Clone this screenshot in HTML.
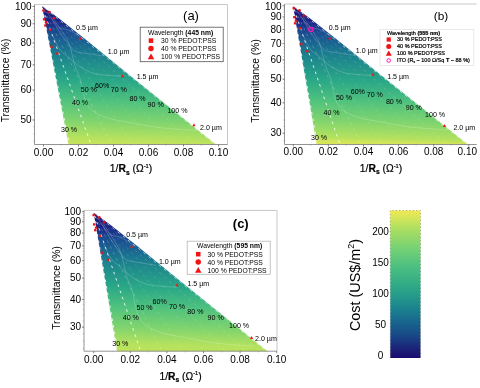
<!DOCTYPE html><html><head><meta charset="utf-8"><title>Figure</title>
<style>html,body{margin:0;padding:0;background:#fff}svg{display:block;will-change:transform;opacity:0.999}text{font-family:'Liberation Sans', sans-serif}</style></head><body>
<svg width="480" height="388" viewBox="0 0 480 388">
<rect width="480" height="388" fill="#fff"/>
<rect x="34.5" y="4.5" width="193.0" height="140.0" fill="#fff" stroke="none"/>
<path d="M34.5 4.5H227.5" stroke="#c9c9c9" stroke-width="1" fill="none"/>
<path d="M227.5 4.5V144.5" stroke="#c9c9c9" stroke-width="1" fill="none"/>
<defs><linearGradient id="ga" gradientUnits="userSpaceOnUse" x1="42" y1="6" x2="39" y2="144.5">
<stop offset="0" stop-color="#1a0a72"/>
<stop offset="0.05" stop-color="#1a1878"/>
<stop offset="0.12" stop-color="#1a2c88"/>
<stop offset="0.178" stop-color="#1a4a90"/>
<stop offset="0.235" stop-color="#1a5c92"/>
<stop offset="0.308" stop-color="#1a7490"/>
<stop offset="0.388" stop-color="#1f8a8c"/>
<stop offset="0.533" stop-color="#2aa887"/>
<stop offset="0.678" stop-color="#50c27e"/>
<stop offset="0.822" stop-color="#80d46e"/>
<stop offset="0.945" stop-color="#b6e25e"/>
<stop offset="0.967" stop-color="#c0e25e"/>
<stop offset="1" stop-color="#cbe35a"/>
</linearGradient></defs>
<polygon points="42,6 59.06,18.46 85.36,39.24 129.60,75.25 216,144.5 68.5,144.5" fill="url(#ga)"/>
<line x1="42" y1="6" x2="69.30" y2="144.5" stroke="#fff" stroke-width="0.9" stroke-dasharray="2.6 4" stroke-dashoffset="-2.0" opacity="0.95"/>
<line x1="42" y1="6" x2="91.00" y2="144.5" stroke="#fff" stroke-width="0.9" stroke-dasharray="2.6 4" stroke-dashoffset="-3.3" opacity="0.95"/>
<line x1="42" y1="6" x2="111.83" y2="144.5" stroke="#fff" stroke-width="0.9" stroke-dasharray="2.6 4" stroke-dashoffset="-4.6" opacity="0.25"/>
<line x1="42" y1="6" x2="132.67" y2="144.5" stroke="#fff" stroke-width="0.9" stroke-dasharray="2.6 4" stroke-dashoffset="-5.9" opacity="0.16"/>
<line x1="42" y1="6" x2="153.50" y2="144.5" stroke="#fff" stroke-width="0.9" stroke-dasharray="2.6 4" stroke-dashoffset="-7.2" opacity="0.14"/>
<line x1="42" y1="6" x2="174.33" y2="144.5" stroke="#fff" stroke-width="0.9" stroke-dasharray="2.6 4" stroke-dashoffset="-8.5" opacity="0.14"/>
<line x1="42" y1="6" x2="195.17" y2="144.5" stroke="#fff" stroke-width="0.9" stroke-dasharray="2.6 4" stroke-dashoffset="-9.8" opacity="0.18"/>
<line x1="42" y1="6" x2="215.20" y2="144.5" stroke="#fff" stroke-width="0.9" stroke-dasharray="2.6 4" stroke-dashoffset="-11.1" opacity="0.7"/>
<path d="M82.0 38.0C80.0 36.8 73.7 32.2 70.0 30.5C66.3 28.8 62.7 29.4 60.0 28.0C57.3 26.6 56.2 24.7 54.0 22.0C51.8 19.3 48.2 13.7 47.0 12.0" stroke="#fff" stroke-width="0.45" fill="none" opacity="0.42"/>
<path d="M103.2 56.0C100.5 55.6 91.8 54.3 87.1 53.5C82.4 52.7 78.1 52.9 74.8 51.0C71.5 49.1 69.8 45.5 67.3 42.4C64.8 39.3 62.5 36.4 60.0 32.5C57.5 28.6 53.3 21.2 52.0 19.0" stroke="#fff" stroke-width="0.45" fill="none" opacity="0.42"/>
<path d="M123.0 76.3C119.1 76.0 105.5 75.4 99.5 74.5C93.5 73.6 90.7 72.4 87.0 70.8C83.3 69.2 80.3 67.0 77.2 64.7C74.1 62.4 71.5 59.7 68.6 57.2C65.7 54.7 62.6 53.3 60.0 49.8C57.4 46.3 54.2 38.3 53.0 36.0" stroke="#fff" stroke-width="0.45" fill="none" opacity="0.42"/>
<path d="M197.0 130.5C194.2 130.3 187.0 130.1 180.0 129.5C173.0 128.9 163.3 128.2 155.0 127.0C146.7 125.8 137.5 123.9 130.0 122.5C122.5 121.1 115.8 120.4 110.0 118.7C104.2 117.0 98.8 114.8 95.0 112.5C91.2 110.2 89.4 108.1 87.5 105.0C85.6 101.9 84.7 98.2 83.5 94.0C82.3 89.8 81.9 84.7 80.5 80.0C79.1 75.3 76.3 70.0 75.0 66.0C73.7 62.0 73.6 59.9 72.5 56.0C71.4 52.1 70.5 46.7 68.6 42.4C66.7 38.1 63.6 34.1 61.0 30.0C58.4 25.9 54.3 20.0 53.0 18.0" stroke="#fff" stroke-width="0.45" fill="none" opacity="0.42"/>
<path d="M34.5 4.5V144.5H227.5" stroke="#7a7a7a" stroke-width="0.8" fill="none"/>
<path d="M32.5 6.50H34.5" stroke="#666" stroke-width="0.8"/>
<text x="31.70" y="10.30" font-size="10" text-anchor="end" font-weight="normal" fill="#000" >100</text>
<path d="M32.5 23.75H34.5" stroke="#666" stroke-width="0.8"/>
<text x="31.70" y="26.85" font-size="10" text-anchor="end" font-weight="normal" fill="#000" >90</text>
<path d="M32.5 43.04H34.5" stroke="#666" stroke-width="0.8"/>
<text x="31.70" y="46.14" font-size="10" text-anchor="end" font-weight="normal" fill="#000" >80</text>
<path d="M32.5 64.90H34.5" stroke="#666" stroke-width="0.8"/>
<text x="31.70" y="68.00" font-size="10" text-anchor="end" font-weight="normal" fill="#000" >70</text>
<path d="M32.5 90.14H34.5" stroke="#666" stroke-width="0.8"/>
<text x="31.70" y="93.24" font-size="10" text-anchor="end" font-weight="normal" fill="#000" >60</text>
<path d="M32.5 119.99H34.5" stroke="#666" stroke-width="0.8"/>
<text x="31.70" y="123.09" font-size="10" text-anchor="end" font-weight="normal" fill="#000" >50</text>
<path d="M33.3 9.81H34.5" stroke="#888" stroke-width="0.5"/>
<path d="M33.3 13.18H34.5" stroke="#888" stroke-width="0.5"/>
<path d="M33.3 16.63H34.5" stroke="#888" stroke-width="0.5"/>
<path d="M33.3 20.15H34.5" stroke="#888" stroke-width="0.5"/>
<path d="M33.3 23.75H34.5" stroke="#888" stroke-width="0.5"/>
<path d="M33.3 27.43H34.5" stroke="#888" stroke-width="0.5"/>
<path d="M33.3 31.19H34.5" stroke="#888" stroke-width="0.5"/>
<path d="M33.3 35.05H34.5" stroke="#888" stroke-width="0.5"/>
<path d="M33.3 38.99H34.5" stroke="#888" stroke-width="0.5"/>
<path d="M33.3 43.04H34.5" stroke="#888" stroke-width="0.5"/>
<path d="M33.3 47.18H34.5" stroke="#888" stroke-width="0.5"/>
<path d="M33.3 51.43H34.5" stroke="#888" stroke-width="0.5"/>
<path d="M33.3 55.80H34.5" stroke="#888" stroke-width="0.5"/>
<path d="M33.3 60.29H34.5" stroke="#888" stroke-width="0.5"/>
<path d="M33.3 64.90H34.5" stroke="#888" stroke-width="0.5"/>
<path d="M33.3 69.64H34.5" stroke="#888" stroke-width="0.5"/>
<path d="M33.3 74.53H34.5" stroke="#888" stroke-width="0.5"/>
<path d="M33.3 79.57H34.5" stroke="#888" stroke-width="0.5"/>
<path d="M33.3 84.77H34.5" stroke="#888" stroke-width="0.5"/>
<path d="M33.3 90.14H34.5" stroke="#888" stroke-width="0.5"/>
<path d="M33.3 95.69H34.5" stroke="#888" stroke-width="0.5"/>
<path d="M33.3 101.43H34.5" stroke="#888" stroke-width="0.5"/>
<path d="M33.3 107.39H34.5" stroke="#888" stroke-width="0.5"/>
<path d="M33.3 113.57H34.5" stroke="#888" stroke-width="0.5"/>
<path d="M33.3 119.99H34.5" stroke="#888" stroke-width="0.5"/>
<path d="M33.3 126.67H34.5" stroke="#888" stroke-width="0.5"/>
<path d="M33.3 133.64H34.5" stroke="#888" stroke-width="0.5"/>
<path d="M33.3 140.92H34.5" stroke="#888" stroke-width="0.5"/>
<path d="M43.50 144.5V146.5" stroke="#666" stroke-width="0.8"/>
<text x="43.50" y="155.70" font-size="10" text-anchor="middle" font-weight="normal" fill="#000" >0.00</text>
<path d="M78.50 144.5V146.5" stroke="#666" stroke-width="0.8"/>
<text x="78.50" y="155.70" font-size="10" text-anchor="middle" font-weight="normal" fill="#000" >0.02</text>
<path d="M113.50 144.5V146.5" stroke="#666" stroke-width="0.8"/>
<text x="113.50" y="155.70" font-size="10" text-anchor="middle" font-weight="normal" fill="#000" >0.04</text>
<path d="M148.50 144.5V146.5" stroke="#666" stroke-width="0.8"/>
<text x="148.50" y="155.70" font-size="10" text-anchor="middle" font-weight="normal" fill="#000" >0.06</text>
<path d="M183.50 144.5V146.5" stroke="#666" stroke-width="0.8"/>
<text x="183.50" y="155.70" font-size="10" text-anchor="middle" font-weight="normal" fill="#000" >0.08</text>
<path d="M218.50 144.5V146.5" stroke="#666" stroke-width="0.8"/>
<text x="218.50" y="155.70" font-size="10" text-anchor="middle" font-weight="normal" fill="#000" >0.10</text>
<path d="M61.00 144.5V145.7" stroke="#888" stroke-width="0.5"/>
<path d="M96.00 144.5V145.7" stroke="#888" stroke-width="0.5"/>
<path d="M131.00 144.5V145.7" stroke="#888" stroke-width="0.5"/>
<path d="M166.00 144.5V145.7" stroke="#888" stroke-width="0.5"/>
<path d="M201.00 144.5V145.7" stroke="#888" stroke-width="0.5"/>
<rect x="42.25" y="9.35" width="2.3" height="2.3" fill="#f01414"/>
<circle cx="49.60" cy="12.00" r="1.3" fill="#f01414"/>
<polygon points="53.80,16.00 55.40,19.00 52.20,19.00" fill="#f01414"/>
<rect x="42.85" y="18.15" width="2.3" height="2.3" fill="#f01414"/>
<circle cx="46.00" cy="22.40" r="1.3" fill="#f01414"/>
<rect x="44.15" y="24.35" width="2.3" height="2.3" fill="#f01414"/>
<circle cx="49.90" cy="29.70" r="1.3" fill="#f01414"/>
<polygon points="80.00,36.50 81.60,39.50 78.40,39.50" fill="#f01414"/>
<rect x="50.35" y="45.55" width="2.3" height="2.3" fill="#f01414"/>
<circle cx="57.30" cy="53.60" r="1.3" fill="#f01414"/>
<polygon points="122.50,74.20 124.10,77.20 120.90,77.20" fill="#f01414"/>
<polygon points="194.00,123.20 195.60,126.20 192.40,126.20" fill="#f01414"/>
<text x="76.00" y="30.00" font-size="7.1" text-anchor="start" font-weight="normal" fill="#000" >0.5 µm</text>
<text x="107.70" y="54.20" font-size="7.1" text-anchor="start" font-weight="normal" fill="#000" >1.0 µm</text>
<text x="136.70" y="79.00" font-size="7.1" text-anchor="start" font-weight="normal" fill="#000" >1.5 µm</text>
<text x="200.00" y="130.40" font-size="7.1" text-anchor="start" font-weight="normal" fill="#000" >2.0 µm</text>
<text x="61.00" y="132.00" font-size="7.1" text-anchor="start" font-weight="normal" fill="#000" >30 %</text>
<text x="72.00" y="105.00" font-size="7.1" text-anchor="start" font-weight="normal" fill="#000" >40 %</text>
<text x="80.70" y="92.30" font-size="7.1" text-anchor="start" font-weight="normal" fill="#000" >50 %</text>
<text x="95.00" y="88.00" font-size="7.1" text-anchor="start" font-weight="normal" fill="#000" >60%</text>
<text x="110.70" y="92.30" font-size="7.1" text-anchor="start" font-weight="normal" fill="#000" >70 %</text>
<text x="129.50" y="100.50" font-size="7.1" text-anchor="start" font-weight="normal" fill="#000" >80 %</text>
<text x="147.60" y="106.70" font-size="7.1" text-anchor="start" font-weight="normal" fill="#000" >90 %</text>
<text x="167.40" y="113.20" font-size="7.1" text-anchor="start" font-weight="normal" fill="#000" >100 %</text>
<text x="191.00" y="20.00" font-size="13" text-anchor="middle" font-weight="normal" fill="#000" >(a)</text>
<rect x="140.2" y="27.2" width="83.0" height="34.5" fill="#fff" stroke="#555" stroke-width="0.8"/>
<text x="148.00" y="35.00" font-size="6.77" text-anchor="start" font-weight="normal" fill="#000" >Wavelength <tspan font-weight="bold">(445 nm)</tspan></text>
<rect x="148.72" y="38.33" width="4.55" height="4.55" fill="#f01414"/>
<text x="161.00" y="43.04" font-size="6.77" text-anchor="start" font-weight="normal" fill="#000" >30 % PEDOT:PSS</text>
<circle cx="151.00" cy="48.40" r="2.73" fill="#f01414"/>
<text x="161.00" y="50.84" font-size="6.77" text-anchor="start" font-weight="normal" fill="#000" >40 % PEDOT:PSS</text>
<polygon points="151.00,53.52 154.25,59.24 147.75,59.24" fill="#f01414"/>
<text x="161.00" y="59.34" font-size="6.77" text-anchor="start" font-weight="normal" fill="#000" >100 % PEDOT:PSS</text>
<text x="0.00" y="0.00" font-size="10.3" text-anchor="middle" font-weight="normal" fill="#000" transform="translate(9.4,80.5) rotate(-90)">Transmittance (%)</text>
<text x="131.00" y="172.30" font-size="10.3" text-anchor="middle" font-weight="normal" fill="#000" stroke="#000" stroke-width="0.2">1/<tspan font-weight="bold">R</tspan><tspan font-weight="bold" font-size="6.7" dy="2.2">s</tspan><tspan dy="-2.2"> (Ω</tspan><tspan font-size="5.7" dy="-4.5">-1</tspan><tspan dy="4.5">)</tspan></text>
<rect x="284.5" y="4" width="192.3" height="140.5" fill="#fff" stroke="none"/>
<path d="M284.5 4H476.8" stroke="#c9c9c9" stroke-width="1" fill="none"/>
<defs><linearGradient id="gb" gradientUnits="userSpaceOnUse" x1="293" y1="6" x2="290" y2="144.5">
<stop offset="0" stop-color="#1a0a72"/>
<stop offset="0.05" stop-color="#1a1878"/>
<stop offset="0.12" stop-color="#1a2c88"/>
<stop offset="0.178" stop-color="#1a4a90"/>
<stop offset="0.235" stop-color="#1a5c92"/>
<stop offset="0.308" stop-color="#1a7490"/>
<stop offset="0.388" stop-color="#1f8a8c"/>
<stop offset="0.533" stop-color="#2aa887"/>
<stop offset="0.678" stop-color="#50c27e"/>
<stop offset="0.822" stop-color="#80d46e"/>
<stop offset="0.945" stop-color="#b6e25e"/>
<stop offset="0.967" stop-color="#d0e45a"/>
<stop offset="1" stop-color="#dce857"/>
</linearGradient></defs>
<polygon points="293,6 310.15,18.46 336.60,39.24 381.10,75.25 468,144.5 316.6,144.5" fill="url(#gb)"/>
<line x1="293" y1="6" x2="317.40" y2="144.5" stroke="#fff" stroke-width="0.9" stroke-dasharray="2.6 4" stroke-dashoffset="-2.0" opacity="0.95"/>
<line x1="293" y1="6" x2="340.00" y2="144.5" stroke="#fff" stroke-width="0.9" stroke-dasharray="2.6 4" stroke-dashoffset="-3.3" opacity="0.95"/>
<line x1="293" y1="6" x2="361.33" y2="144.5" stroke="#fff" stroke-width="0.9" stroke-dasharray="2.6 4" stroke-dashoffset="-4.6" opacity="0.25"/>
<line x1="293" y1="6" x2="382.67" y2="144.5" stroke="#fff" stroke-width="0.9" stroke-dasharray="2.6 4" stroke-dashoffset="-5.9" opacity="0.16"/>
<line x1="293" y1="6" x2="404.00" y2="144.5" stroke="#fff" stroke-width="0.9" stroke-dasharray="2.6 4" stroke-dashoffset="-7.2" opacity="0.14"/>
<line x1="293" y1="6" x2="425.33" y2="144.5" stroke="#fff" stroke-width="0.9" stroke-dasharray="2.6 4" stroke-dashoffset="-8.5" opacity="0.14"/>
<line x1="293" y1="6" x2="446.67" y2="144.5" stroke="#fff" stroke-width="0.9" stroke-dasharray="2.6 4" stroke-dashoffset="-9.8" opacity="0.18"/>
<line x1="293" y1="6" x2="467.20" y2="144.5" stroke="#fff" stroke-width="0.9" stroke-dasharray="2.6 4" stroke-dashoffset="-11.1" opacity="0.7"/>
<path d="M332.3 37.3C330.3 36.0 324.0 31.5 320.3 29.8C316.6 28.1 313.0 28.7 310.3 27.3C307.6 25.9 306.5 24.0 304.3 21.3C302.1 18.6 298.5 13.0 297.3 11.3" stroke="#fff" stroke-width="0.45" fill="none" opacity="0.42"/>
<path d="M353.5 55.3C350.8 54.9 342.1 53.6 337.4 52.8C332.7 52.0 328.4 52.1 325.1 50.3C321.8 48.4 320.1 44.8 317.6 41.7C315.1 38.6 312.9 35.7 310.3 31.8C307.8 27.9 303.6 20.6 302.3 18.3" stroke="#fff" stroke-width="0.45" fill="none" opacity="0.42"/>
<path d="M373.3 75.6C369.4 75.3 355.8 74.7 349.8 73.8C343.8 72.9 341.0 71.7 337.3 70.1C333.6 68.5 330.6 66.3 327.5 64.0C324.4 61.7 321.8 59.0 318.9 56.5C316.0 54.0 312.9 52.6 310.3 49.1C307.7 45.6 304.5 37.6 303.3 35.3" stroke="#fff" stroke-width="0.45" fill="none" opacity="0.42"/>
<path d="M447.3 129.8C444.5 129.6 437.3 129.4 430.3 128.8C423.3 128.2 413.6 127.5 405.3 126.3C397.0 125.1 387.8 123.2 380.3 121.8C372.8 120.4 366.1 119.7 360.3 118.0C354.5 116.3 349.1 114.1 345.3 111.8C341.6 109.5 339.7 107.4 337.8 104.3C335.9 101.2 335.0 97.5 333.8 93.3C332.6 89.1 332.2 84.0 330.8 79.3C329.4 74.6 326.6 69.3 325.3 65.3C324.0 61.3 323.9 59.2 322.8 55.3C321.7 51.4 320.8 46.0 318.9 41.7C317.0 37.4 313.9 33.4 311.3 29.3C308.7 25.2 304.6 19.3 303.3 17.3" stroke="#fff" stroke-width="0.45" fill="none" opacity="0.42"/>
<path d="M284.5 4V144.5H476.8" stroke="#7a7a7a" stroke-width="0.8" fill="none"/>
<path d="M282.5 5.80H284.5" stroke="#666" stroke-width="0.8"/>
<text x="281.70" y="9.60" font-size="10" text-anchor="end" font-weight="normal" fill="#000" >100</text>
<path d="M282.5 16.96H284.5" stroke="#666" stroke-width="0.8"/>
<text x="281.70" y="20.06" font-size="10" text-anchor="end" font-weight="normal" fill="#000" >90</text>
<path d="M282.5 29.43H284.5" stroke="#666" stroke-width="0.8"/>
<text x="281.70" y="32.53" font-size="10" text-anchor="end" font-weight="normal" fill="#000" >80</text>
<path d="M282.5 43.57H284.5" stroke="#666" stroke-width="0.8"/>
<text x="281.70" y="46.67" font-size="10" text-anchor="end" font-weight="normal" fill="#000" >70</text>
<path d="M282.5 59.89H284.5" stroke="#666" stroke-width="0.8"/>
<text x="281.70" y="62.99" font-size="10" text-anchor="end" font-weight="normal" fill="#000" >60</text>
<path d="M282.5 79.19H284.5" stroke="#666" stroke-width="0.8"/>
<text x="281.70" y="82.29" font-size="10" text-anchor="end" font-weight="normal" fill="#000" >50</text>
<path d="M282.5 102.82H284.5" stroke="#666" stroke-width="0.8"/>
<text x="281.70" y="105.92" font-size="10" text-anchor="end" font-weight="normal" fill="#000" >40</text>
<path d="M282.5 133.28H284.5" stroke="#666" stroke-width="0.8"/>
<text x="281.70" y="136.38" font-size="10" text-anchor="end" font-weight="normal" fill="#000" >30</text>
<path d="M283.3 7.94H284.5" stroke="#888" stroke-width="0.5"/>
<path d="M283.3 10.12H284.5" stroke="#888" stroke-width="0.5"/>
<path d="M283.3 12.35H284.5" stroke="#888" stroke-width="0.5"/>
<path d="M283.3 14.63H284.5" stroke="#888" stroke-width="0.5"/>
<path d="M283.3 16.96H284.5" stroke="#888" stroke-width="0.5"/>
<path d="M283.3 19.34H284.5" stroke="#888" stroke-width="0.5"/>
<path d="M283.3 21.77H284.5" stroke="#888" stroke-width="0.5"/>
<path d="M283.3 24.26H284.5" stroke="#888" stroke-width="0.5"/>
<path d="M283.3 26.81H284.5" stroke="#888" stroke-width="0.5"/>
<path d="M283.3 29.43H284.5" stroke="#888" stroke-width="0.5"/>
<path d="M283.3 32.11H284.5" stroke="#888" stroke-width="0.5"/>
<path d="M283.3 34.86H284.5" stroke="#888" stroke-width="0.5"/>
<path d="M283.3 37.68H284.5" stroke="#888" stroke-width="0.5"/>
<path d="M283.3 40.58H284.5" stroke="#888" stroke-width="0.5"/>
<path d="M283.3 43.57H284.5" stroke="#888" stroke-width="0.5"/>
<path d="M283.3 46.63H284.5" stroke="#888" stroke-width="0.5"/>
<path d="M283.3 49.80H284.5" stroke="#888" stroke-width="0.5"/>
<path d="M283.3 53.05H284.5" stroke="#888" stroke-width="0.5"/>
<path d="M283.3 56.41H284.5" stroke="#888" stroke-width="0.5"/>
<path d="M283.3 59.89H284.5" stroke="#888" stroke-width="0.5"/>
<path d="M283.3 63.48H284.5" stroke="#888" stroke-width="0.5"/>
<path d="M283.3 67.19H284.5" stroke="#888" stroke-width="0.5"/>
<path d="M283.3 71.04H284.5" stroke="#888" stroke-width="0.5"/>
<path d="M283.3 75.04H284.5" stroke="#888" stroke-width="0.5"/>
<path d="M283.3 79.19H284.5" stroke="#888" stroke-width="0.5"/>
<path d="M283.3 83.51H284.5" stroke="#888" stroke-width="0.5"/>
<path d="M283.3 88.02H284.5" stroke="#888" stroke-width="0.5"/>
<path d="M283.3 92.73H284.5" stroke="#888" stroke-width="0.5"/>
<path d="M283.3 97.65H284.5" stroke="#888" stroke-width="0.5"/>
<path d="M283.3 102.82H284.5" stroke="#888" stroke-width="0.5"/>
<path d="M283.3 108.25H284.5" stroke="#888" stroke-width="0.5"/>
<path d="M283.3 113.97H284.5" stroke="#888" stroke-width="0.5"/>
<path d="M283.3 120.03H284.5" stroke="#888" stroke-width="0.5"/>
<path d="M283.3 126.44H284.5" stroke="#888" stroke-width="0.5"/>
<path d="M283.3 133.28H284.5" stroke="#888" stroke-width="0.5"/>
<path d="M283.3 140.58H284.5" stroke="#888" stroke-width="0.5"/>
<path d="M293.30 144.5V146.5" stroke="#666" stroke-width="0.8"/>
<text x="293.30" y="155.00" font-size="10" text-anchor="middle" font-weight="normal" fill="#000" >0.00</text>
<path d="M328.40 144.5V146.5" stroke="#666" stroke-width="0.8"/>
<text x="328.40" y="155.00" font-size="10" text-anchor="middle" font-weight="normal" fill="#000" >0.02</text>
<path d="M363.50 144.5V146.5" stroke="#666" stroke-width="0.8"/>
<text x="363.50" y="155.00" font-size="10" text-anchor="middle" font-weight="normal" fill="#000" >0.04</text>
<path d="M398.60 144.5V146.5" stroke="#666" stroke-width="0.8"/>
<text x="398.60" y="155.00" font-size="10" text-anchor="middle" font-weight="normal" fill="#000" >0.06</text>
<path d="M433.70 144.5V146.5" stroke="#666" stroke-width="0.8"/>
<text x="433.70" y="155.00" font-size="10" text-anchor="middle" font-weight="normal" fill="#000" >0.08</text>
<path d="M468.80 144.5V146.5" stroke="#666" stroke-width="0.8"/>
<text x="467.30" y="155.00" font-size="10" text-anchor="middle" font-weight="normal" fill="#000" >0.10</text>
<path d="M310.85 144.5V145.7" stroke="#888" stroke-width="0.5"/>
<path d="M345.95 144.5V145.7" stroke="#888" stroke-width="0.5"/>
<path d="M381.05 144.5V145.7" stroke="#888" stroke-width="0.5"/>
<path d="M416.15 144.5V145.7" stroke="#888" stroke-width="0.5"/>
<path d="M451.25 144.5V145.7" stroke="#888" stroke-width="0.5"/>
<rect x="292.55" y="7.15" width="2.3" height="2.3" fill="#f01414"/>
<circle cx="299.50" cy="10.30" r="1.3" fill="#f01414"/>
<polygon points="303.70,13.50 305.30,16.50 302.10,16.50" fill="#f01414"/>
<rect x="293.05" y="16.05" width="2.3" height="2.3" fill="#f01414"/>
<circle cx="295.80" cy="20.80" r="1.3" fill="#f01414"/>
<rect x="293.85" y="22.15" width="2.3" height="2.3" fill="#f01414"/>
<circle cx="300.00" cy="28.30" r="1.3" fill="#f01414"/>
<circle cx="310.80" cy="29.50" r="2.1" fill="none" stroke="#ff14b4" stroke-width="1.3"/>
<polygon points="329.70,36.20 331.30,39.20 328.10,39.20" fill="#f01414"/>
<rect x="300.15" y="43.05" width="2.3" height="2.3" fill="#f01414"/>
<circle cx="307.20" cy="51.30" r="1.3" fill="#f01414"/>
<polygon points="373.00,72.70 374.60,75.70 371.40,75.70" fill="#f01414"/>
<polygon points="444.50,123.90 446.10,126.90 442.90,126.90" fill="#f01414"/>
<text x="328.80" y="30.00" font-size="7.1" text-anchor="start" font-weight="normal" fill="#000" >0.5 µm</text>
<text x="355.80" y="52.80" font-size="7.1" text-anchor="start" font-weight="normal" fill="#000" >1.0 µm</text>
<text x="387.20" y="79.10" font-size="7.1" text-anchor="start" font-weight="normal" fill="#000" >1.5 µm</text>
<text x="453.40" y="129.80" font-size="7.1" text-anchor="start" font-weight="normal" fill="#000" >2.0 µm</text>
<text x="311.00" y="140.00" font-size="7.1" text-anchor="start" font-weight="normal" fill="#000" >30 %</text>
<text x="323.50" y="115.00" font-size="7.1" text-anchor="start" font-weight="normal" fill="#000" >40 %</text>
<text x="335.90" y="99.80" font-size="7.1" text-anchor="start" font-weight="normal" fill="#000" >50 %</text>
<text x="350.70" y="93.90" font-size="7.1" text-anchor="start" font-weight="normal" fill="#000" >60%</text>
<text x="366.70" y="97.40" font-size="7.1" text-anchor="start" font-weight="normal" fill="#000" >70 %</text>
<text x="385.90" y="103.90" font-size="7.1" text-anchor="start" font-weight="normal" fill="#000" >80 %</text>
<text x="405.70" y="109.80" font-size="7.1" text-anchor="start" font-weight="normal" fill="#000" >90 %</text>
<text x="425.00" y="117.00" font-size="7.1" text-anchor="start" font-weight="normal" fill="#000" >100 %</text>
<text x="441.00" y="20.00" font-size="11.8" text-anchor="middle" font-weight="normal" fill="#000" >(b)</text>
<rect x="380" y="29.5" width="93.75" height="36.0" fill="#fff" stroke="#e4e4e4" stroke-width="0.8"/>
<text x="387.00" y="34.80" font-size="5.5" text-anchor="start" font-weight="normal" fill="#000" stroke="#000" stroke-width="0.2">Wavelength <tspan font-weight="bold">(555 nm)</tspan></text>
<rect x="386.65" y="37.40" width="4.20" height="4.20" fill="#f01414"/>
<text x="397.00" y="41.48" font-size="5.5" text-anchor="start" font-weight="normal" fill="#000" stroke="#000" stroke-width="0.2">30 % PEDOT:PSS</text>
<circle cx="388.75" cy="46.50" r="2.52" fill="#f01414"/>
<text x="397.00" y="48.48" font-size="5.5" text-anchor="start" font-weight="normal" fill="#000" stroke="#000" stroke-width="0.2">40 % PEDOT:PSS</text>
<polygon points="388.75,50.38 391.75,55.66 385.75,55.66" fill="#f01414"/>
<text x="397.00" y="55.48" font-size="5.5" text-anchor="start" font-weight="normal" fill="#000" stroke="#000" stroke-width="0.2">100 % PEDOT:PSS</text>
<circle cx="388.75" cy="60.50" r="1.8" fill="none" stroke="#ff14b4" stroke-width="1"/>
<text x="397.00" y="62.48" font-size="5.5" text-anchor="start" font-weight="normal" fill="#000" stroke="#000" stroke-width="0.2">ITO (R<tspan font-size="3.2" dy="1">s</tspan><tspan dy="-1"> ~ 100 Ω/Sq <tspan font-weight="bold">T</tspan> ~ 88 %)</tspan></text>
<text x="0.00" y="0.00" font-size="10.3" text-anchor="middle" font-weight="normal" fill="#000" transform="translate(259,81) rotate(-90)">Transmittance (%)</text>
<text x="381.00" y="172.00" font-size="10.3" text-anchor="middle" font-weight="normal" fill="#000" stroke="#000" stroke-width="0.2">1/<tspan font-weight="bold">R</tspan><tspan font-weight="bold" font-size="6.7" dy="2.2">s</tspan><tspan dy="-2.2"> (Ω</tspan><tspan font-size="5.7" dy="-4.5">-1</tspan><tspan dy="4.5">)</tspan></text>
<rect x="84" y="210.4" width="193" height="140.79999999999998" fill="#fff" stroke="none"/>
<path d="M84 210.4H277" stroke="#c9c9c9" stroke-width="1" fill="none"/>
<path d="M277 210.4V351.2" stroke="#c9c9c9" stroke-width="1" fill="none"/>
<defs><linearGradient id="gc" gradientUnits="userSpaceOnUse" x1="93.6" y1="212.5" x2="90.6" y2="351.2">
<stop offset="0" stop-color="#1a0a72"/>
<stop offset="0.05" stop-color="#1a1878"/>
<stop offset="0.12" stop-color="#1a2c88"/>
<stop offset="0.178" stop-color="#1a4a90"/>
<stop offset="0.235" stop-color="#1a5c92"/>
<stop offset="0.308" stop-color="#1a7490"/>
<stop offset="0.388" stop-color="#1f8a8c"/>
<stop offset="0.533" stop-color="#2aa887"/>
<stop offset="0.678" stop-color="#50c27e"/>
<stop offset="0.822" stop-color="#80d46e"/>
<stop offset="0.945" stop-color="#b6e25e"/>
<stop offset="0.967" stop-color="#b8e25e"/>
<stop offset="1" stop-color="#c4e25c"/>
</linearGradient></defs>
<polygon points="93.6,212.5 110.65,224.98 136.94,245.79 181.15,281.85 267.5,351.2 117,351.2" fill="url(#gc)"/>
<line x1="93.6" y1="212.5" x2="117.80" y2="351.2" stroke="#fff" stroke-width="0.9" stroke-dasharray="2.6 4" stroke-dashoffset="-2.0" opacity="0.95"/>
<line x1="93.6" y1="212.5" x2="140.60" y2="351.2" stroke="#fff" stroke-width="0.9" stroke-dasharray="2.6 4" stroke-dashoffset="-3.3" opacity="0.95"/>
<line x1="93.6" y1="212.5" x2="161.75" y2="351.2" stroke="#fff" stroke-width="0.9" stroke-dasharray="2.6 4" stroke-dashoffset="-4.6" opacity="0.25"/>
<line x1="93.6" y1="212.5" x2="182.90" y2="351.2" stroke="#fff" stroke-width="0.9" stroke-dasharray="2.6 4" stroke-dashoffset="-5.9" opacity="0.16"/>
<line x1="93.6" y1="212.5" x2="204.05" y2="351.2" stroke="#fff" stroke-width="0.9" stroke-dasharray="2.6 4" stroke-dashoffset="-7.2" opacity="0.14"/>
<line x1="93.6" y1="212.5" x2="225.20" y2="351.2" stroke="#fff" stroke-width="0.9" stroke-dasharray="2.6 4" stroke-dashoffset="-8.5" opacity="0.14"/>
<line x1="93.6" y1="212.5" x2="246.35" y2="351.2" stroke="#fff" stroke-width="0.9" stroke-dasharray="2.6 4" stroke-dashoffset="-9.8" opacity="0.18"/>
<line x1="93.6" y1="212.5" x2="266.70" y2="351.2" stroke="#fff" stroke-width="0.9" stroke-dasharray="2.6 4" stroke-dashoffset="-11.1" opacity="0.7"/>
<path d="M134.0 245.8C131.9 244.4 125.2 239.4 121.4 237.6C117.6 235.8 113.7 236.5 111.0 234.9C108.2 233.4 106.9 231.3 104.7 228.4C102.4 225.5 98.6 219.4 97.4 217.6" stroke="#fff" stroke-width="0.45" fill="none" opacity="0.42"/>
<path d="M156.1 265.3C153.3 264.8 144.2 263.5 139.3 262.6C134.3 261.7 129.9 261.9 126.4 259.9C123.0 257.9 121.2 253.9 118.6 250.5C116.0 247.2 113.6 244.0 111.0 239.8C108.3 235.6 104.0 227.6 102.6 225.2" stroke="#fff" stroke-width="0.45" fill="none" opacity="0.42"/>
<path d="M176.8 287.3C172.7 287.0 158.5 286.3 152.3 285.3C146.0 284.4 143.1 283.1 139.2 281.3C135.3 279.6 132.1 277.2 128.9 274.7C125.7 272.3 122.9 269.3 119.9 266.6C116.9 263.9 113.7 262.4 111.0 258.6C108.2 254.7 104.9 246.1 103.6 243.6" stroke="#fff" stroke-width="0.45" fill="none" opacity="0.42"/>
<path d="M254.2 346.1C251.3 345.9 243.8 345.6 236.4 345.0C229.1 344.4 219.0 343.5 210.3 342.3C201.6 341.0 192.0 338.9 184.2 337.4C176.3 335.9 169.3 335.1 163.2 333.3C157.1 331.5 151.5 329.0 147.6 326.6C143.6 324.1 141.7 321.8 139.7 318.4C137.7 315.1 136.7 311.0 135.5 306.5C134.3 302.0 133.9 296.4 132.4 291.3C130.9 286.2 128.0 280.5 126.6 276.1C125.2 271.8 125.1 269.5 124.0 265.3C122.9 261.0 122.0 255.2 119.9 250.5C117.9 245.8 114.7 241.5 112.0 237.1C109.3 232.7 105.0 226.2 103.6 224.1" stroke="#fff" stroke-width="0.45" fill="none" opacity="0.42"/>
<path d="M84 210.4V351.2H277" stroke="#7a7a7a" stroke-width="0.8" fill="none"/>
<path d="M82 211.60H84" stroke="#666" stroke-width="0.8"/>
<text x="81.20" y="215.40" font-size="10" text-anchor="end" font-weight="normal" fill="#000" >100</text>
<path d="M82 221.71H84" stroke="#666" stroke-width="0.8"/>
<text x="81.20" y="224.81" font-size="10" text-anchor="end" font-weight="normal" fill="#000" >90</text>
<path d="M82 233.02H84" stroke="#666" stroke-width="0.8"/>
<text x="81.20" y="236.12" font-size="10" text-anchor="end" font-weight="normal" fill="#000" >80</text>
<path d="M82 245.83H84" stroke="#666" stroke-width="0.8"/>
<text x="81.20" y="248.93" font-size="10" text-anchor="end" font-weight="normal" fill="#000" >70</text>
<path d="M82 260.63H84" stroke="#666" stroke-width="0.8"/>
<text x="81.20" y="263.73" font-size="10" text-anchor="end" font-weight="normal" fill="#000" >60</text>
<path d="M82 278.13H84" stroke="#666" stroke-width="0.8"/>
<text x="81.20" y="281.23" font-size="10" text-anchor="end" font-weight="normal" fill="#000" >50</text>
<path d="M82 299.54H84" stroke="#666" stroke-width="0.8"/>
<text x="81.20" y="302.64" font-size="10" text-anchor="end" font-weight="normal" fill="#000" >40</text>
<path d="M82 327.16H84" stroke="#666" stroke-width="0.8"/>
<text x="81.20" y="330.26" font-size="10" text-anchor="end" font-weight="normal" fill="#000" >30</text>
<path d="M82.8 213.54H84" stroke="#888" stroke-width="0.5"/>
<path d="M82.8 215.52H84" stroke="#888" stroke-width="0.5"/>
<path d="M82.8 217.54H84" stroke="#888" stroke-width="0.5"/>
<path d="M82.8 219.60H84" stroke="#888" stroke-width="0.5"/>
<path d="M82.8 221.71H84" stroke="#888" stroke-width="0.5"/>
<path d="M82.8 223.87H84" stroke="#888" stroke-width="0.5"/>
<path d="M82.8 226.08H84" stroke="#888" stroke-width="0.5"/>
<path d="M82.8 228.33H84" stroke="#888" stroke-width="0.5"/>
<path d="M82.8 230.65H84" stroke="#888" stroke-width="0.5"/>
<path d="M82.8 233.02H84" stroke="#888" stroke-width="0.5"/>
<path d="M82.8 235.45H84" stroke="#888" stroke-width="0.5"/>
<path d="M82.8 237.94H84" stroke="#888" stroke-width="0.5"/>
<path d="M82.8 240.50H84" stroke="#888" stroke-width="0.5"/>
<path d="M82.8 243.13H84" stroke="#888" stroke-width="0.5"/>
<path d="M82.8 245.83H84" stroke="#888" stroke-width="0.5"/>
<path d="M82.8 248.62H84" stroke="#888" stroke-width="0.5"/>
<path d="M82.8 251.48H84" stroke="#888" stroke-width="0.5"/>
<path d="M82.8 254.43H84" stroke="#888" stroke-width="0.5"/>
<path d="M82.8 257.48H84" stroke="#888" stroke-width="0.5"/>
<path d="M82.8 260.63H84" stroke="#888" stroke-width="0.5"/>
<path d="M82.8 263.88H84" stroke="#888" stroke-width="0.5"/>
<path d="M82.8 267.25H84" stroke="#888" stroke-width="0.5"/>
<path d="M82.8 270.74H84" stroke="#888" stroke-width="0.5"/>
<path d="M82.8 274.36H84" stroke="#888" stroke-width="0.5"/>
<path d="M82.8 278.13H84" stroke="#888" stroke-width="0.5"/>
<path d="M82.8 282.05H84" stroke="#888" stroke-width="0.5"/>
<path d="M82.8 286.13H84" stroke="#888" stroke-width="0.5"/>
<path d="M82.8 290.40H84" stroke="#888" stroke-width="0.5"/>
<path d="M82.8 294.86H84" stroke="#888" stroke-width="0.5"/>
<path d="M82.8 299.54H84" stroke="#888" stroke-width="0.5"/>
<path d="M82.8 304.47H84" stroke="#888" stroke-width="0.5"/>
<path d="M82.8 309.66H84" stroke="#888" stroke-width="0.5"/>
<path d="M82.8 315.14H84" stroke="#888" stroke-width="0.5"/>
<path d="M82.8 320.96H84" stroke="#888" stroke-width="0.5"/>
<path d="M82.8 327.16H84" stroke="#888" stroke-width="0.5"/>
<path d="M82.8 333.78H84" stroke="#888" stroke-width="0.5"/>
<path d="M82.8 340.89H84" stroke="#888" stroke-width="0.5"/>
<path d="M82.8 348.57H84" stroke="#888" stroke-width="0.5"/>
<path d="M93.70 351.2V353.2" stroke="#666" stroke-width="0.8"/>
<text x="93.70" y="362.60" font-size="10" text-anchor="middle" font-weight="normal" fill="#000" >0.00</text>
<path d="M130.30 351.2V353.2" stroke="#666" stroke-width="0.8"/>
<text x="130.30" y="362.60" font-size="10" text-anchor="middle" font-weight="normal" fill="#000" >0.02</text>
<path d="M166.90 351.2V353.2" stroke="#666" stroke-width="0.8"/>
<text x="166.90" y="362.60" font-size="10" text-anchor="middle" font-weight="normal" fill="#000" >0.04</text>
<path d="M203.50 351.2V353.2" stroke="#666" stroke-width="0.8"/>
<text x="203.50" y="362.60" font-size="10" text-anchor="middle" font-weight="normal" fill="#000" >0.06</text>
<path d="M240.10 351.2V353.2" stroke="#666" stroke-width="0.8"/>
<text x="240.10" y="362.60" font-size="10" text-anchor="middle" font-weight="normal" fill="#000" >0.08</text>
<path d="M276.70 351.2V353.2" stroke="#666" stroke-width="0.8"/>
<text x="276.70" y="362.60" font-size="10" text-anchor="middle" font-weight="normal" fill="#000" >0.10</text>
<path d="M112.00 351.2V352.4" stroke="#888" stroke-width="0.5"/>
<path d="M148.60 351.2V352.4" stroke="#888" stroke-width="0.5"/>
<path d="M185.20 351.2V352.4" stroke="#888" stroke-width="0.5"/>
<path d="M221.80 351.2V352.4" stroke="#888" stroke-width="0.5"/>
<path d="M258.40 351.2V352.4" stroke="#888" stroke-width="0.5"/>
<rect x="92.45" y="213.95" width="2.3" height="2.3" fill="#f01414"/>
<circle cx="99.40" cy="217.40" r="1.3" fill="#f01414"/>
<polygon points="104.00,220.20 105.60,223.20 102.40,223.20" fill="#f01414"/>
<rect x="92.95" y="223.25" width="2.3" height="2.3" fill="#f01414"/>
<circle cx="96.00" cy="227.80" r="1.3" fill="#f01414"/>
<rect x="94.05" y="229.05" width="2.3" height="2.3" fill="#f01414"/>
<circle cx="99.90" cy="236.00" r="1.3" fill="#f01414"/>
<polygon points="131.70,244.60 133.30,247.60 130.10,247.60" fill="#f01414"/>
<rect x="100.55" y="251.55" width="2.3" height="2.3" fill="#f01414"/>
<circle cx="108.00" cy="259.90" r="1.3" fill="#f01414"/>
<polygon points="177.00,283.20 178.60,286.20 175.40,286.20" fill="#f01414"/>
<polygon points="251.60,336.10 253.20,339.10 250.00,339.10" fill="#f01414"/>
<text x="126.20" y="236.80" font-size="7.1" text-anchor="start" font-weight="normal" fill="#000" >0.5 µm</text>
<text x="158.90" y="263.90" font-size="7.1" text-anchor="start" font-weight="normal" fill="#000" >1.0 µm</text>
<text x="187.40" y="286.30" font-size="7.1" text-anchor="start" font-weight="normal" fill="#000" >1.5 µm</text>
<text x="255.00" y="340.80" font-size="7.1" text-anchor="start" font-weight="normal" fill="#000" >2.0 µm</text>
<text x="112.20" y="345.80" font-size="7.1" text-anchor="start" font-weight="normal" fill="#000" >30 %</text>
<text x="122.70" y="319.50" font-size="7.1" text-anchor="start" font-weight="normal" fill="#000" >40 %</text>
<text x="136.50" y="309.50" font-size="7.1" text-anchor="start" font-weight="normal" fill="#000" >50 %</text>
<text x="152.50" y="303.50" font-size="7.1" text-anchor="start" font-weight="normal" fill="#000" >60%</text>
<text x="169.00" y="309.30" font-size="7.1" text-anchor="start" font-weight="normal" fill="#000" >70 %</text>
<text x="187.30" y="313.50" font-size="7.1" text-anchor="start" font-weight="normal" fill="#000" >80 %</text>
<text x="207.60" y="320.30" font-size="7.1" text-anchor="start" font-weight="normal" fill="#000" >90 %</text>
<text x="229.00" y="327.60" font-size="7.1" text-anchor="start" font-weight="normal" fill="#000" >100 %</text>
<text x="240.75" y="228.40" font-size="13" text-anchor="middle" font-weight="bold" fill="#000" >(c)</text>
<rect x="187.2" y="241.2" width="83.0" height="33.10000000000002" fill="#fff" stroke="#b4b4b4" stroke-width="0.8"/>
<text x="197.00" y="248.00" font-size="6.78" text-anchor="start" font-weight="normal" fill="#000" >Wavelength <tspan font-weight="bold">(595 nm)</tspan></text>
<rect x="195.97" y="251.92" width="4.55" height="4.55" fill="#f01414"/>
<text x="207.50" y="256.64" font-size="6.78" text-anchor="start" font-weight="normal" fill="#000" >30 % PEDOT:PSS</text>
<circle cx="198.25" cy="262.10" r="2.73" fill="#f01414"/>
<text x="207.50" y="264.54" font-size="6.78" text-anchor="start" font-weight="normal" fill="#000" >40 % PEDOT:PSS</text>
<polygon points="198.25,267.02 201.50,272.74 195.00,272.74" fill="#f01414"/>
<text x="207.50" y="272.84" font-size="6.78" text-anchor="start" font-weight="normal" fill="#000" >100 % PEDOT:PSS</text>
<text x="0.00" y="0.00" font-size="10.3" text-anchor="middle" font-weight="normal" fill="#000" transform="translate(60,288) rotate(-90)">Transmittance (%)</text>
<text x="180.60" y="379.50" font-size="10.3" text-anchor="middle" font-weight="normal" fill="#000" stroke="#000" stroke-width="0.2">1/<tspan font-weight="bold">R</tspan><tspan font-weight="bold" font-size="6.7" dy="2.2">s</tspan><tspan dy="-2.2"> (Ω</tspan><tspan font-size="5.7" dy="-4.5">-1</tspan><tspan dy="4.5">)</tspan></text>
<defs><linearGradient id="gcb" x1="0" y1="1" x2="0" y2="0">
<stop offset="0.0000" stop-color="#1a0a72"/>
<stop offset="0.0417" stop-color="#1c1974"/>
<stop offset="0.0833" stop-color="#1b2b7a"/>
<stop offset="0.1250" stop-color="#193d82"/>
<stop offset="0.1667" stop-color="#184d89"/>
<stop offset="0.2083" stop-color="#185a8b"/>
<stop offset="0.2500" stop-color="#18678e"/>
<stop offset="0.2917" stop-color="#1a758e"/>
<stop offset="0.3333" stop-color="#1c828e"/>
<stop offset="0.3750" stop-color="#208e8d"/>
<stop offset="0.4167" stop-color="#25998b"/>
<stop offset="0.4583" stop-color="#2aa388"/>
<stop offset="0.5000" stop-color="#32ab86"/>
<stop offset="0.5417" stop-color="#3bb284"/>
<stop offset="0.5833" stop-color="#43ba83"/>
<stop offset="0.6250" stop-color="#4fc080"/>
<stop offset="0.6667" stop-color="#5dc67c"/>
<stop offset="0.7083" stop-color="#6acc78"/>
<stop offset="0.7500" stop-color="#79d273"/>
<stop offset="0.7917" stop-color="#8ad66d"/>
<stop offset="0.8333" stop-color="#9ada67"/>
<stop offset="0.8750" stop-color="#acdf61"/>
<stop offset="0.9167" stop-color="#c3e35d"/>
<stop offset="0.9583" stop-color="#dae759"/>
<stop offset="1.0000" stop-color="#f0e850"/>
</linearGradient></defs>
<rect x="390.3" y="210.5" width="30.19999999999999" height="147.5" fill="url(#gcb)"/>
<path d="M390.3 358V210.5H420.5V358" stroke="#4a4a20" stroke-width="0.6" stroke-dasharray="1.2 2.2" fill="none" opacity="0.7"/>
<text x="380.60" y="359.45" font-size="10" text-anchor="middle" font-weight="normal" fill="#000" >0</text>
<text x="380.60" y="328.32" font-size="10" text-anchor="middle" font-weight="normal" fill="#000" >50</text>
<text x="380.60" y="297.20" font-size="10" text-anchor="middle" font-weight="normal" fill="#000" >100</text>
<text x="380.60" y="266.07" font-size="10" text-anchor="middle" font-weight="normal" fill="#000" >150</text>
<text x="380.60" y="234.95" font-size="10" text-anchor="middle" font-weight="normal" fill="#000" >200</text>
<text x="0.00" y="0.00" font-size="14.4" text-anchor="middle" font-weight="normal" fill="#000" transform="translate(360,285) rotate(-90)">Cost (US$/m<tspan font-size="9" dy="-6.3">2</tspan><tspan dy="6.3">)</tspan></text>
</svg></body></html>
